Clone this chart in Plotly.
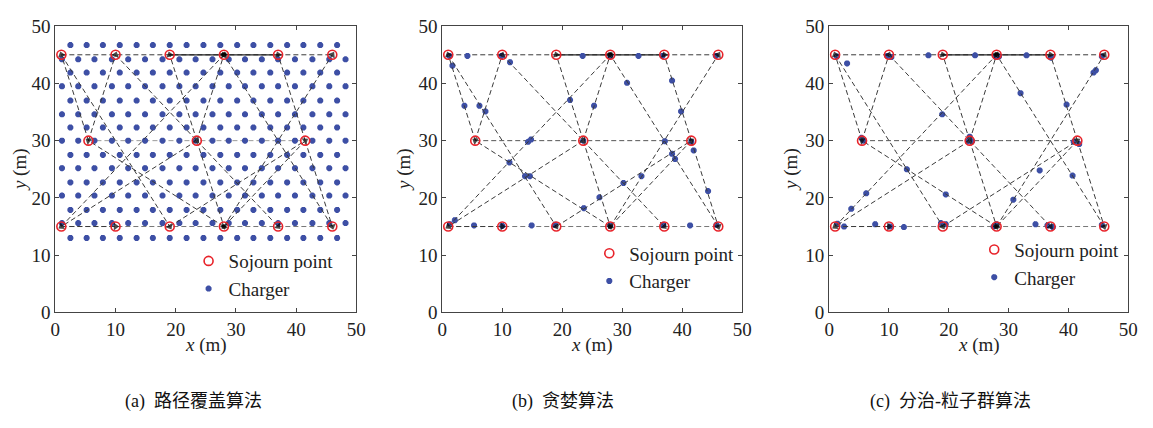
import plotly.graph_objects as go

W, H = 1153, 428

# ---------------- data ----------------
# sojourn points (index 0-5: y=45 row, 6-8: y=30 row, 9-14: y=15 row)
soj_x = [1, 10, 19, 28, 37, 46, 5.5, 23.5, 41.5, 1, 10, 19, 28, 37, 46]
soj_y = [45, 45, 45, 45, 45, 45, 30, 30, 30, 15, 15, 15, 15, 15, 15]

# horizontal route rows (indices into sojourn arrays)
row_top = [0, 1, 2, 3, 4, 5]
row_mid = [6, 7, 8]
row_bot = [9, 10, 11, 12, 13, 14]
row_top_solid = [2, 3, 4]

# directed route segments (from, to)
route_edges = [(6, 0), (6, 1), (0, 11), (1, 7), (7, 2), (7, 3), (9, 3), (14, 3),
               (8, 4), (12, 5), (12, 6), (7, 9), (7, 12), (7, 13), (11, 8),
               (8, 12), (8, 14), (9, 10)]

# (a) path-coverage chargers: staggered lattice rows/cols
a_rowA_y = [46.7, 41.9, 37.0, 32.3, 27.5, 22.7, 17.9, 13.0]
a_rowB_y = [44.2, 39.5, 34.6, 30.0, 25.2, 20.4, 15.6]
a_colA_x = [2.5, 5.2, 7.9, 10.7, 13.5, 16.2, 19.0, 21.8, 24.6, 27.4, 30.2,
            32.9, 35.7, 38.5, 41.2, 44.0, 46.8]
a_colB_x = [1.1, 3.8, 6.5, 9.4, 12.1, 14.9, 17.8, 20.6, 23.3, 26.1, 28.8,
            31.5, 34.3, 37.0, 39.8, 42.7, 45.5, 48.2]

# (b) greedy chargers
b_x = [1.2, 1.7, 4.2, 3.7, 6.2, 7.2, 9.9, 11.3, 14.3, 14.8, 11.2, 13.8, 14.6,
       21.3, 23.4, 25.3, 23.5, 28.0, 32.7, 36.7, 45.6, 30.8, 38.3, 39.8, 37.1,
       41.5, 38.3, 38.8, 41.9, 33.2, 30.2, 26.2, 23.6, 44.3, 2.1, 1.3, 5.3,
       10.0, 14.9, 18.8, 28.0, 36.8, 41.3, 45.7]
b_y = [44.8, 43.1, 44.8, 36.1, 36.1, 35.1, 44.8, 43.7, 29.8, 30.2, 26.2, 23.8,
       23.8, 37.1, 44.8, 36.1, 30.0, 44.8, 44.8, 44.8, 44.8, 40.1, 40.5, 35.1,
       29.9, 29.8, 27.7, 26.8, 28.3, 23.8, 22.6, 20.1, 18.2, 21.2, 16.1, 15.4,
       15.2, 15.1, 15.2, 15.3, 15.2, 15.3, 15.2, 15.3]

# (c) divide-and-conquer PSO chargers
c_x = [1.3, 3.0, 9.7, 10.4, 16.6, 24.4, 27.9, 28.4, 33.0, 37.1, 44.2, 44.6,
       45.6, 32.0, 39.7, 18.9, 5.4, 5.8, 23.2, 23.9, 23.5, 40.9, 41.8, 13.0,
       19.5, 35.2, 40.7, 30.8, 6.2, 3.7, 2.5, 7.7, 10.2, 12.5, 18.7, 19.5,
       27.5, 28.0, 34.5, 36.5, 37.4, 45.6, 1.4]
c_y = [44.7, 43.5, 44.8, 44.6, 44.9, 44.9, 44.6, 44.7, 44.9, 44.5, 41.9, 42.3,
       44.7, 38.3, 36.3, 34.6, 30.5, 30.0, 29.9, 29.9, 30.7, 29.8, 29.4, 25.0,
       20.6, 24.8, 23.9, 19.7, 20.8, 18.1, 15.0, 15.4, 15.0, 14.9, 15.6, 15.4,
       15.0, 15.4, 15.4, 15.2, 14.9, 15.3, 15.5]

captions = ["(a)  路径覆盖算法", "(b)  贪婪算法", "(c)  分治-粒子群算法"]
x_ticks = [0, 10, 20, 30, 40, 50]
y_ticks = [0, 10, 20, 30, 40, 50]

# ---------------- build ----------------
a_x, a_y = [], []
for yy in a_rowA_y:
    for xx in a_colA_x:
        a_x.append(xx); a_y.append(yy)
for yy in a_rowB_y:
    for xx in a_colB_x:
        a_x.append(xx); a_y.append(yy)

chargers = [(a_x, a_y), (b_x, b_y), (c_x, c_y)]

# pixel layout
px_left = [51, 443, 835]
px_right = [356, 747, 1138]
px_top, px_bot = 17, 318
leg_text_left = [222, 628, 1018]
leg_row1 = [258, 250, 246]
cap_x = [191, 565, 958]
ylab_x = [15, 405, 797]

SERIF = "Liberation Serif, Times New Roman, serif"
LINE_COL = "#3a3a3a"
DASH = "5px,3px"

fig = go.Figure()
layout = dict(width=W, height=H, margin=dict(l=0, r=0, t=0, b=0),
              paper_bgcolor="white", plot_bgcolor="white",
              font=dict(family=SERIF, size=19, color="#222"))
annotations = []

for p in range(3):
    sfx = "" if p == 0 else str(p + 1)
    xa, ya = "x" + sfx, "y" + sfx
    leg = "legend" + sfx
    mid_col = "#9a9a9a" if p == 0 else "#555555"

    # horizontal rows
    for row, col in ((row_top, LINE_COL), (row_mid, mid_col), (row_bot, "#777777")):
        fig.add_trace(go.Scatter(
            x=[soj_x[i] for i in row], y=[soj_y[i] for i in row], mode="lines",
            line=dict(color=col, width=1, dash=DASH), showlegend=False,
            hoverinfo="skip", xaxis=xa, yaxis=ya))
    fig.add_trace(go.Scatter(
        x=[soj_x[i] for i in row_top_solid], y=[soj_y[i] for i in row_top_solid],
        mode="lines", line=dict(color="#222", width=1.2), showlegend=False,
        hoverinfo="skip", xaxis=xa, yaxis=ya))

    # chargers
    cx, cy = chargers[p]
    fig.add_trace(go.Scatter(
        x=cx, y=cy, mode="markers", name="Charger", legend=leg, legendrank=2,
        marker=dict(symbol="asterisk-open", size=5, color="#3d4fa5",
                    line=dict(color="#3d4fa5", width=2.2)),
        xaxis=xa, yaxis=ya))

    # diagonal route segments with arrow heads
    for (a, b) in route_edges:
        fig.add_trace(go.Scatter(
            x=[soj_x[a], soj_x[b]], y=[soj_y[a], soj_y[b]], mode="lines+markers",
            line=dict(color=LINE_COL, width=1, dash=DASH),
            marker=dict(symbol=["circle", "triangle-up"], size=[0, 7], color="black",
                        angleref="previous", line=dict(width=0)),
            showlegend=False, hoverinfo="skip", xaxis=xa, yaxis=ya))

    # sojourn points
    fig.add_trace(go.Scatter(
        x=soj_x, y=soj_y, mode="markers", name="Sojourn point", legend=leg,
        legendrank=1,
        marker=dict(symbol="circle-open", size=9, color="#e8232a",
                    line=dict(color="#e8232a", width=1.6)),
        xaxis=xa, yaxis=ya))

    dom_x = [px_left[p] / W, px_right[p] / W]
    dom_y = [1 - px_bot / H, 1 - px_top / H]
    axcommon = dict(range=[0, 50], showgrid=False, zeroline=False, showline=True,
                    linecolor="#444", linewidth=1, mirror="ticks", ticks="inside",
                    ticklen=4, tickcolor="#444", tickfont=dict(family=SERIF, size=19, color="#222"),
                    fixedrange=True)
    layout["xaxis" + sfx] = dict(axcommon, domain=dom_x, anchor=ya, tickvals=x_ticks)
    layout["yaxis" + sfx] = dict(axcommon, domain=dom_y, anchor=xa, tickvals=y_ticks)
    layout[leg] = dict(x=(leg_text_left[p] - 36) / W, y=1 - (leg_row1[p] - 14) / H,
                       xanchor="left", yanchor="top", bgcolor="rgba(0,0,0,0)",
                       borderwidth=0, font=dict(family=SERIF, size=19, color="#222"),
                       itemwidth=30, traceorder="normal")

    # axis titles
    annotations.append(dict(text="<i>x</i> (m)", x=(px_left[p] + px_right[p]) / 2 / W,
                            y=1 - 352 / H, xref="paper", yref="paper", showarrow=False,
                            xanchor="center", yanchor="middle",
                            font=dict(family=SERIF, size=19, color="#222")))
    annotations.append(dict(text="<i>y</i> (m)", x=ylab_x[p] / W,
                            y=1 - (px_top + px_bot) / 2 / H, xref="paper", yref="paper",
                            showarrow=False, textangle=-90, xanchor="center",
                            yanchor="middle", font=dict(family=SERIF, size=19, color="#222")))
    # caption
    annotations.append(dict(text=captions[p], x=cap_x[p] / W, y=1 - 412 / H,
                            xref="paper", yref="paper", showarrow=False,
                            xanchor="center", yanchor="middle",
                            font=dict(family="Liberation Serif, Noto Sans CJK SC", size=18,
                                      color="#111")))

layout["annotations"] = annotations
fig.update_layout(**layout)
fig.write_html("out.html")
